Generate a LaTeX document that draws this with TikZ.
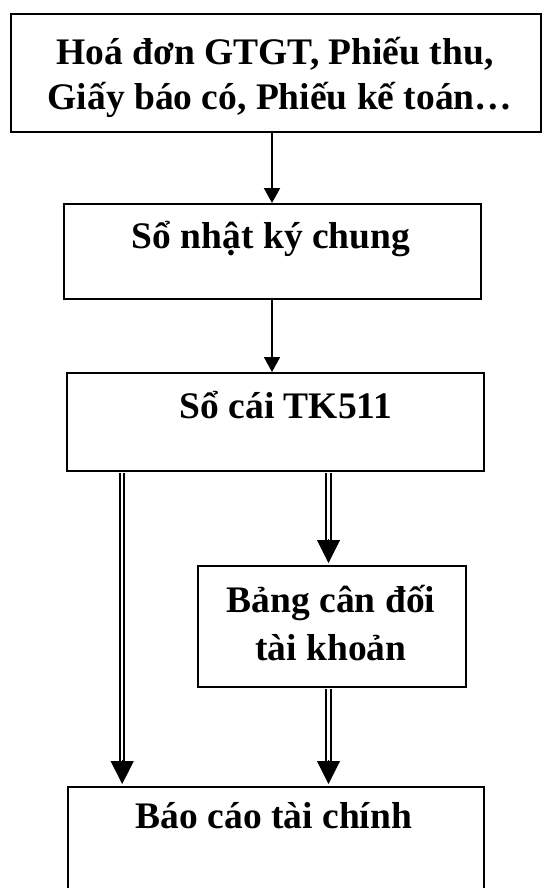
\documentclass[tikz,border=0pt]{standalone}
\usepackage{fontspec}
\setmainfont{Liberation Serif}
\usetikzlibrary{arrows.meta,calc}
\begin{document}
\begin{tikzpicture}[x=1pt,y=-1pt,
  box/.style={draw, line width=2pt, rectangle, inner sep=0pt, anchor=north west},
  lbl/.style={anchor=base, inner sep=0pt, font=\fontsize{37.5}{45}\bfseries\selectfont},
  arr/.style={line width=2pt, -{Triangle[width=16pt,length=15pt]}},
  dbl/.style={line width=2pt, double, double distance=2.3pt},
  dtip/.style={line width=1pt, -{Triangle[width=23pt,length=23pt]}}]
\useasboundingbox (0,0) rectangle (542,888);
\clip (0,0) rectangle (542,888);
% boxes
\node[box, minimum width=530pt, minimum height=118pt] (b1) at (10,13) {};
\node[box, minimum width=417pt, minimum height=95pt] (b2) at (63,203) {};
\node[box, minimum width=417pt, minimum height=98pt] (b3) at (66,372) {};
\node[box, minimum width=268pt, minimum height=121pt] (b4) at (197,565) {};
\node[box, minimum width=416pt, minimum height=125pt] (b5) at (67,786) {};
% labels
\node[lbl] (t1a) at (275,65) {Hoá đơn GTGT, Phiếu thu,};
\node[lbl] (t1b) at (280,110) {Giấy báo có, Phiếu kế toán…};
\node[lbl] (t2) at (271,248) {Sổ nhật ký chung};
\node[lbl] (t3) at (286,418) {Sổ cái TK511};
\node[lbl] (t4a) at (331,612) {Bảng cân đối};
\node[lbl] (t4b) at (331,660) {tài khoản};
\node[lbl] (t5) at (274,828) {Báo cáo tài chính};
% single arrows
\coordinate (xa) at (272,0);
\draw[arr] (b1.south -| xa) -- (b2.north -| xa);
\draw[arr] (b2.south -| xa) -- (b3.north -| xa);
% double arrows
\coordinate (xl) at (122.2,0);
\coordinate (xr) at (328.5,0);
\draw[dbl] ($(b3.south -| xl)+(0,1)$) -- ($(b5.north -| xl)+(0,-22)$);
\draw[dtip] ($(b5.north -| xl)+(0,-26)$) -- ($(b5.north -| xl)+(0,-2)$);
\draw[dbl] ($(b3.south -| xr)+(0,1)$) -- ($(b4.north -| xr)+(0,-22)$);
\draw[dtip] ($(b4.north -| xr)+(0,-26)$) -- ($(b4.north -| xr)+(0,-2)$);
\draw[dbl] ($(b4.south -| xr)+(0,1)$) -- ($(b5.north -| xr)+(0,-22)$);
\draw[dtip] ($(b5.north -| xr)+(0,-26)$) -- ($(b5.north -| xr)+(0,-2)$);
\end{tikzpicture}
\end{document}
